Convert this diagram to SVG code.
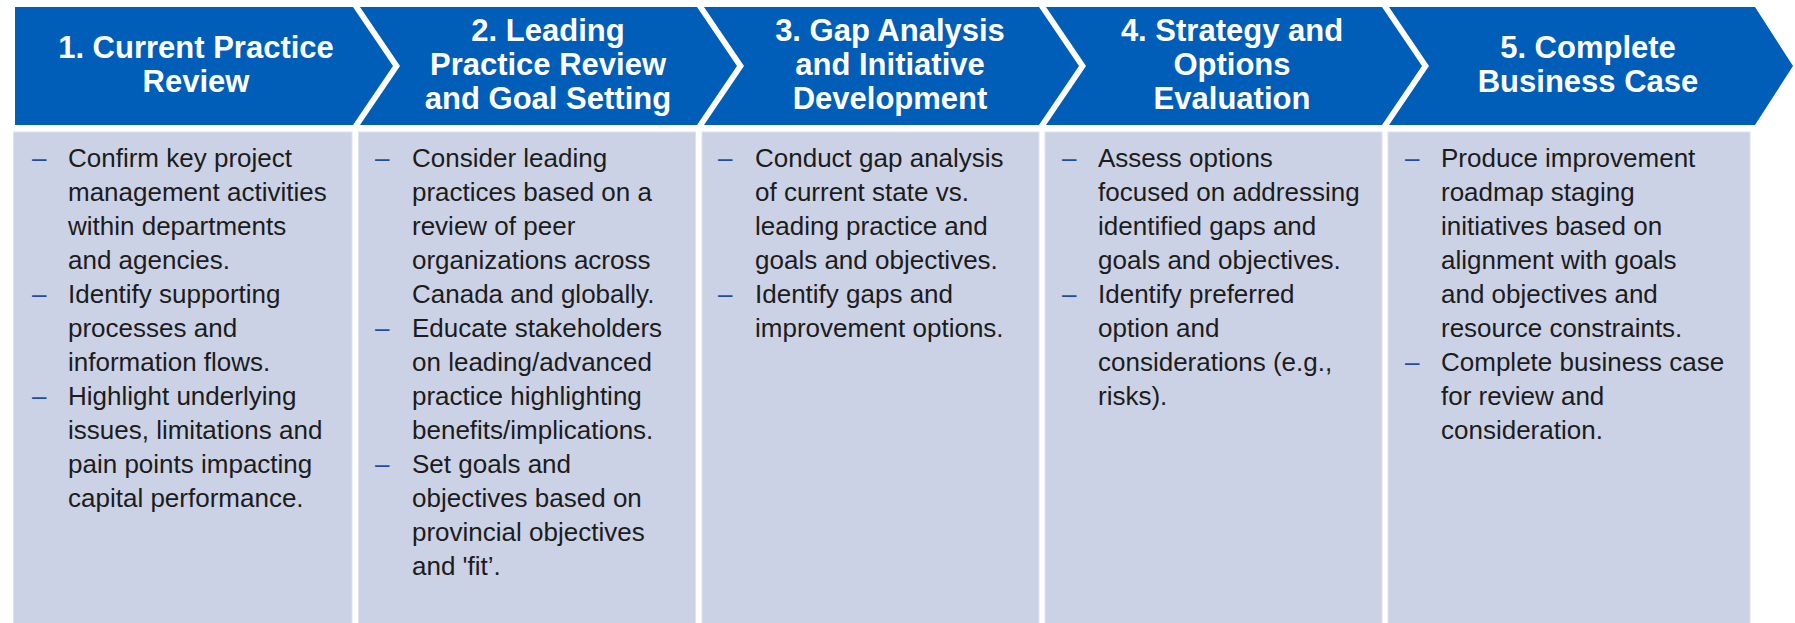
<svg xmlns="http://www.w3.org/2000/svg" width="1795" height="623" viewBox="0 0 1795 623">
<style>
.chev{fill:#005EB8}
.box{fill:#CBD2E5;stroke:#DDE2EE;stroke-width:1}
.hd{font-family:"Liberation Sans",Arial,sans-serif;font-weight:bold;font-size:31px;fill:#ffffff;text-anchor:middle}
.tx{font-family:"Liberation Sans",Arial,sans-serif;font-size:26px;fill:#1c1c1c}
.ds{font-family:"Liberation Sans",Arial,sans-serif;font-size:26px;fill:#1F4E9E}
</style>
<rect width="1795" height="623" fill="#ffffff"/>
<g id="step1">
<polygon class="chev" points="15,7 353,7 393,66 353,125 15,125"/>
<text class="hd" x="196" y="58">1. Current Practice</text>
<text class="hd" x="196" y="92">Review</text>
<rect class="box" x="13.5" y="132" width="338.5" height="495"/>
<text class="ds" x="32" y="166.5">–</text>
<text class="tx" x="68" y="166.5">Confirm key project</text>
<text class="tx" x="68" y="200.5">management activities</text>
<text class="tx" x="68" y="234.5">within departments</text>
<text class="tx" x="68" y="268.5">and agencies.</text>
<text class="ds" x="32" y="302.5">–</text>
<text class="tx" x="68" y="302.5">Identify supporting</text>
<text class="tx" x="68" y="336.5">processes and</text>
<text class="tx" x="68" y="370.5">information flows.</text>
<text class="ds" x="32" y="404.5">–</text>
<text class="tx" x="68" y="404.5">Highlight underlying</text>
<text class="tx" x="68" y="438.5">issues, limitations and</text>
<text class="tx" x="68" y="472.5">pain points impacting</text>
<text class="tx" x="68" y="506.5">capital performance.</text>
</g>
<g id="step2">
<polygon class="chev" points="360,7 697,7 737,66 697,125 360,125 400,66"/>
<text class="hd" x="548" y="41">2. Leading</text>
<text class="hd" x="548" y="75">Practice Review</text>
<text class="hd" x="548" y="109">and Goal Setting</text>
<rect class="box" x="358.5" y="132" width="337" height="495"/>
<text class="ds" x="375" y="166.5">–</text>
<text class="tx" x="412" y="166.5">Consider leading</text>
<text class="tx" x="412" y="200.5">practices based on a</text>
<text class="tx" x="412" y="234.5">review of peer</text>
<text class="tx" x="412" y="268.5">organizations across</text>
<text class="tx" x="412" y="302.5">Canada and globally.</text>
<text class="ds" x="375" y="336.5">–</text>
<text class="tx" x="412" y="336.5">Educate stakeholders</text>
<text class="tx" x="412" y="370.5">on leading/advanced</text>
<text class="tx" x="412" y="404.5">practice highlighting</text>
<text class="tx" x="412" y="438.5">benefits/implications.</text>
<text class="ds" x="375" y="472.5">–</text>
<text class="tx" x="412" y="472.5">Set goals and</text>
<text class="tx" x="412" y="506.5">objectives based on</text>
<text class="tx" x="412" y="540.5">provincial objectives</text>
<text class="tx" x="412" y="574.5">and 'fit’.</text>
</g>
<g id="step3">
<polygon class="chev" points="704,7 1039,7 1079,66 1039,125 704,125 744,66"/>
<text class="hd" x="890" y="41">3. Gap Analysis</text>
<text class="hd" x="890" y="75">and Initiative</text>
<text class="hd" x="890" y="109">Development</text>
<rect class="box" x="702" y="132" width="337" height="495"/>
<text class="ds" x="718" y="166.5">–</text>
<text class="tx" x="755" y="166.5">Conduct gap analysis</text>
<text class="tx" x="755" y="200.5">of current state vs.</text>
<text class="tx" x="755" y="234.5">leading practice and</text>
<text class="tx" x="755" y="268.5">goals and objectives.</text>
<text class="ds" x="718" y="302.5">–</text>
<text class="tx" x="755" y="302.5">Identify gaps and</text>
<text class="tx" x="755" y="336.5">improvement options.</text>
</g>
<g id="step4">
<polygon class="chev" points="1046,7 1382,7 1422,66 1382,125 1046,125 1086,66"/>
<text class="hd" x="1232" y="41">4. Strategy and</text>
<text class="hd" x="1232" y="75">Options</text>
<text class="hd" x="1232" y="109">Evaluation</text>
<rect class="box" x="1045" y="132" width="337" height="495"/>
<text class="ds" x="1062" y="166.5">–</text>
<text class="tx" x="1098" y="166.5">Assess options</text>
<text class="tx" x="1098" y="200.5">focused on addressing</text>
<text class="tx" x="1098" y="234.5">identified gaps and</text>
<text class="tx" x="1098" y="268.5">goals and objectives.</text>
<text class="ds" x="1062" y="302.5">–</text>
<text class="tx" x="1098" y="302.5">Identify preferred</text>
<text class="tx" x="1098" y="336.5">option and</text>
<text class="tx" x="1098" y="370.5">considerations (e.g.,</text>
<text class="tx" x="1098" y="404.5">risks).</text>
</g>
<g id="step5">
<polygon class="chev" points="1389,7 1755,7 1793,66 1755,125 1389,125 1429,66"/>
<text class="hd" x="1588" y="58">5. Complete</text>
<text class="hd" x="1588" y="92">Business Case</text>
<rect class="box" x="1388" y="132" width="362" height="495"/>
<text class="ds" x="1405" y="166.5">–</text>
<text class="tx" x="1441" y="166.5">Produce improvement</text>
<text class="tx" x="1441" y="200.5">roadmap staging</text>
<text class="tx" x="1441" y="234.5">initiatives based on</text>
<text class="tx" x="1441" y="268.5">alignment with goals</text>
<text class="tx" x="1441" y="302.5">and objectives and</text>
<text class="tx" x="1441" y="336.5">resource constraints.</text>
<text class="ds" x="1405" y="370.5">–</text>
<text class="tx" x="1441" y="370.5">Complete business case</text>
<text class="tx" x="1441" y="404.5">for review and</text>
<text class="tx" x="1441" y="438.5">consideration.</text>
</g>
<g id="connectors"></g>
</svg>
